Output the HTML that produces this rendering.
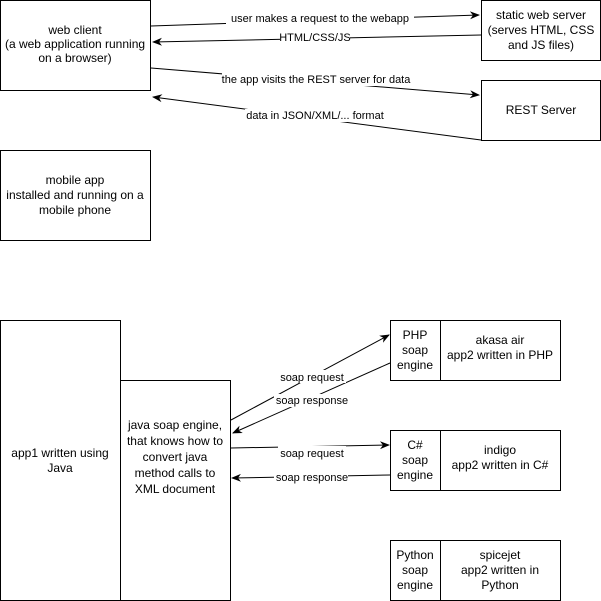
<!DOCTYPE html>
<html><head><style>
body{margin:0;background:#fff;}
svg{display:block;font-family:"Liberation Sans",Helvetica,sans-serif;}
</style></head><body>
<svg width="601" height="601" viewBox="0 0 601 601" xmlns="http://www.w3.org/2000/svg">
<defs><marker id="a" markerWidth="10" markerHeight="10" refX="9" refY="5" orient="auto" markerUnits="userSpaceOnUse"><path d="M0,1 L10,5 L0,9 L3,5 Z" fill="#000"/></marker></defs>
<g fill="#fff" stroke="#000" stroke-width="1">
<rect x="0.5" y="0.5" width="150" height="90"/>
<rect x="481.5" y="0.5" width="119" height="60"/>
<rect x="481.5" y="80.5" width="119" height="60"/>
<rect x="0.5" y="150.5" width="150" height="90"/>
<rect x="0.5" y="320.5" width="120" height="280"/>
<rect x="120.5" y="380.5" width="110" height="220"/>
<rect x="390.5" y="320.5" width="50" height="60"/>
<rect x="440.5" y="320.5" width="120" height="60"/>
<rect x="390.5" y="430.5" width="50" height="60"/>
<rect x="440.5" y="430.5" width="120" height="60"/>
<rect x="390.5" y="540.5" width="50" height="60"/>
<rect x="440.5" y="540.5" width="120" height="60"/>
</g>
<g stroke="#000" fill="none" stroke-width="1" marker-end="url(#a)">
<path d="M151,26 L479,15"/>
<path d="M481,35 L153,42"/>
<path d="M151,68 L479,95"/>
<path d="M481,140 L153,97"/>
<path d="M231,420 L389,335"/>
<path d="M390,363 L233,433"/>
<path d="M231,448 L389,445"/>
<path d="M390,475 L232,478"/>
</g>
<g font-size="11" text-anchor="middle">
<rect x="226" y="12" width="188" height="13" fill="#fff"/><text x="320" y="22">user makes a request to the webapp</text>
<rect x="280" y="31" width="70" height="13" fill="#fff"/><text x="315" y="41">HTML/CSS/JS</text>
<rect x="222" y="73" width="188" height="13" fill="#fff"/><text x="316" y="83">the app visits the REST server for data</text>
<rect x="245" y="109" width="140" height="13" fill="#fff"/><text x="315" y="119">data in JSON/XML/... format</text>
<rect x="278" y="370" width="68" height="13" fill="#fff"/><text x="312" y="381">soap request</text>
<rect x="274" y="394" width="74" height="13" fill="#fff"/><text x="312" y="404">soap response</text>
<rect x="278" y="446" width="68" height="13" fill="#fff"/><text x="312" y="457">soap request</text>
<rect x="274" y="470" width="74" height="13" fill="#fff"/><text x="312" y="481">soap response</text>
</g>
<g font-size="12" text-anchor="middle">
<text x="75" y="34">web client</text><text x="75" y="48">(a web application running</text><text x="75" y="62">on a browser)</text>
<text x="541" y="19">static web server</text><text x="541" y="34">(serves HTML, CSS</text><text x="541" y="49">and JS files)</text>
<text x="541" y="114">REST Server</text>
<text x="75" y="184">mobile app</text><text x="75" y="199">installed and running on a</text><text x="75" y="214">mobile phone</text>
<text x="60" y="457">app1 written using</text><text x="60" y="472">Java</text>
<text x="175" y="429">java soap engine,</text><text x="175" y="445">that knows how to</text><text x="175" y="461">convert java</text><text x="175" y="477">method calls to</text><text x="175" y="493">XML document</text>
<text x="415" y="339">PHP</text><text x="415" y="354">soap</text><text x="415" y="369">engine</text>
<text x="500" y="344">akasa air</text><text x="500" y="359">app2 written in PHP</text>
<text x="415" y="449">C#</text><text x="415" y="464">soap</text><text x="415" y="479">engine</text>
<text x="500" y="454">indigo</text><text x="500" y="469">app2 written in C#</text>
<text x="415" y="559">Python</text><text x="415" y="574">soap</text><text x="415" y="589">engine</text>
<text x="500" y="559">spicejet</text><text x="500" y="574">app2 written in</text><text x="500" y="589">Python</text>
</g>
</svg>
</body></html>
